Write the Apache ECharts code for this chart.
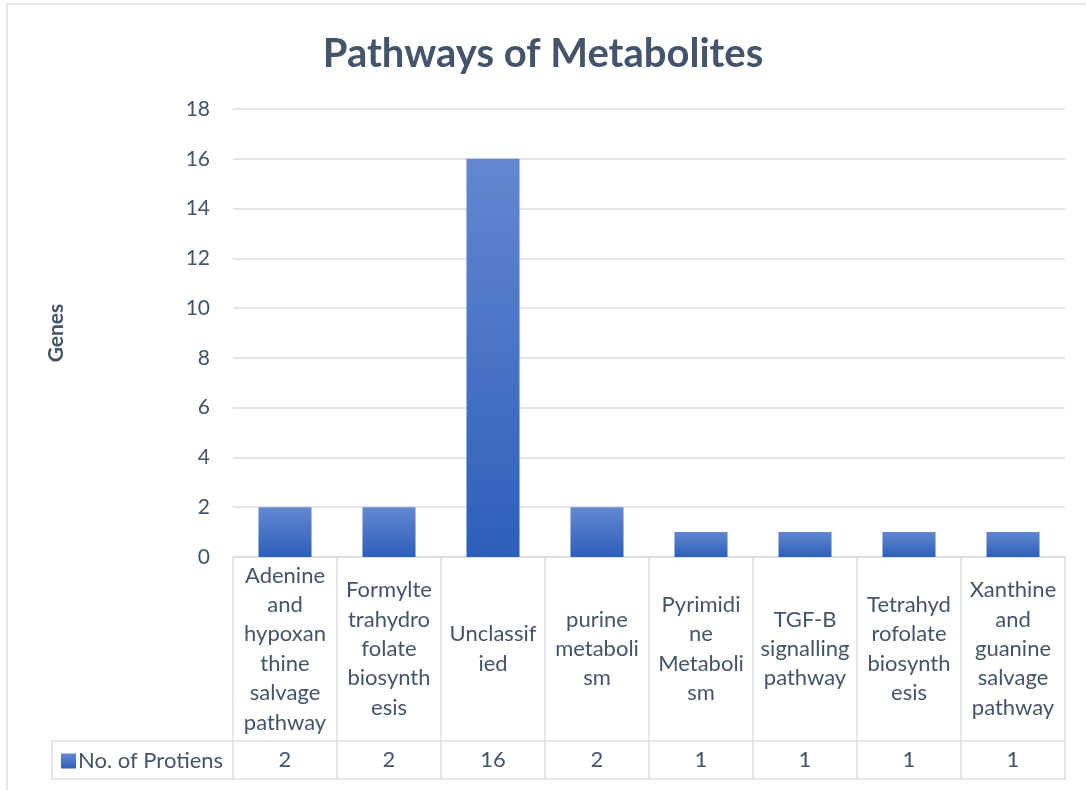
<!DOCTYPE html>
<html>
<head>
<meta charset="utf-8">
<script src="https://cdn.jsdelivr.net/npm/echarts@6/dist/echarts.min.js"></script>
<style>
  html, body { margin: 0; padding: 0; background: #ffffff; }
  #chart { width: 1086px; height: 790px; }
</style>
</head>
<body>
<div id="chart"></div>
<script>
// Pathway names, wrapped the way they appear in the table header cells
const categories = [
  'Adenine\nand\nhypoxan\nthine\nsalvage\npathway',
  'Formylte\ntrahydro\nfolate\nbiosynth\nesis',
  'Unclassif\nied',
  'purine\nmetaboli\nsm',
  'Pyrimidi\nne\nMetaboli\nsm',
  'TGF-B\nsignalling\npathway',
  'Tetrahyd\nrofolate\nbiosynth\nesis',
  'Xanthine\nand\nguanine\nsalvage\npathway'
];
const seriesName = 'No. of Protiens';
const proteinCounts = [2, 2, 16, 2, 1, 1, 1, 1];
const yMin = 0, yMax = 18, yStep = 2;

const textColor = '#44546A';
const lineColor = '#d9dde3';
const fontFamily = 'Lato, "Open Sans", "Noto Sans", sans-serif';

// plot area and data-table geometry
const W = 1086, H = 790;
const gridLeft = 233, gridRight = 21, gridTop = 109, gridBottom = 233;
const headerRowH = 184, valueRowH = 38;
const axisY = H - gridBottom;
const legendCellLeft = 52;

const chart = echarts.init(document.getElementById('chart'), null, { renderer: 'canvas' });

const barGradient = new echarts.graphic.LinearGradient(0, 0, 0, 1, [
  { offset: 0, color: '#6487d0' },
  { offset: 1, color: '#2d5fba' }
]);

chart.setOption({
  animation: false,
  backgroundColor: '#ffffff',
  textStyle: { fontFamily: fontFamily },
  title: {
    text: 'Pathways of Metabolites',
    left: 'center',
    top: 29,
    textStyle: { fontFamily: fontFamily, fontSize: 40, fontWeight: 'bold', color: textColor }
  },
  legend: {
    data: [seriesName],
    left: legendCellLeft + 4,
    top: axisY + headerRowH + 4,
    icon: 'rect',
    itemWidth: 15,
    itemHeight: 15,
    itemGap: 0,
    textStyle: { fontFamily: fontFamily, fontSize: 22, color: textColor, padding: [0, 0, 0, -3] }
  },
  grid: { left: gridLeft, right: gridRight, top: gridTop, bottom: gridBottom, containLabel: false },
  xAxis: [
    {
      type: 'category',
      data: categories,
      position: 'bottom',
      axisLine: { show: true, lineStyle: { color: lineColor, width: 1.5 } },
      axisTick: { show: true, length: headerRowH + valueRowH, lineStyle: { color: lineColor, width: 1.5 } },
      axisLabel: {
        interval: 0,
        margin: headerRowH / 2,
        verticalAlign: 'middle',
        lineHeight: 29.4,
        fontSize: 22,
        color: textColor,
        fontFamily: fontFamily
      },
      splitLine: { show: false }
    },
    {
      type: 'category',
      data: proteinCounts.map(String),
      position: 'bottom',
      offset: headerRowH,
      axisLine: { show: true, lineStyle: { color: lineColor, width: 1.5 } },
      axisTick: { show: false },
      axisLabel: {
        interval: 0,
        margin: valueRowH / 2,
        verticalAlign: 'middle',
        fontSize: 22,
        color: textColor,
        fontFamily: fontFamily
      }
    },
    {
      type: 'category',
      data: categories,
      position: 'bottom',
      offset: headerRowH + valueRowH,
      axisLine: { show: true, lineStyle: { color: lineColor, width: 1.5 } },
      axisTick: { show: false },
      axisLabel: { show: false }
    }
  ],
  yAxis: {
    type: 'value',
    min: yMin,
    max: yMax,
    interval: yStep,
    name: 'Genes',
    nameLocation: 'middle',
    nameRotate: 90,
    nameGap: gridLeft - 67,
    nameTextStyle: { fontFamily: fontFamily, fontSize: 21, fontWeight: 'bold', color: textColor },
    axisLine: { show: false },
    axisTick: { show: false },
    axisLabel: { margin: 23, fontSize: 21, color: textColor, fontFamily: fontFamily },
    splitLine: { show: true, lineStyle: { color: lineColor, width: 1.5 } }
  },
  series: [{
    name: seriesName,
    type: 'bar',
    xAxisIndex: 0,
    data: proteinCounts,
    barWidth: '51%',
    itemStyle: { color: barGradient }
  }],
  graphic: [
    // outer chart frame
    {
      type: 'rect',
      shape: { x: 7, y: 4, width: W + 20, height: H + 20 },
      style: { fill: 'none', stroke: lineColor, lineWidth: 1.5 },
      silent: true
    },
    // legend cell of the data table
    {
      type: 'polyline',
      shape: {
        points: [
          [gridLeft, axisY + headerRowH],
          [legendCellLeft, axisY + headerRowH],
          [legendCellLeft, axisY + headerRowH + valueRowH],
          [gridLeft, axisY + headerRowH + valueRowH]
        ]
      },
      style: { fill: 'none', stroke: lineColor, lineWidth: 1.5 },
      silent: true
    }
  ]
});
</script>
</body>
</html>
